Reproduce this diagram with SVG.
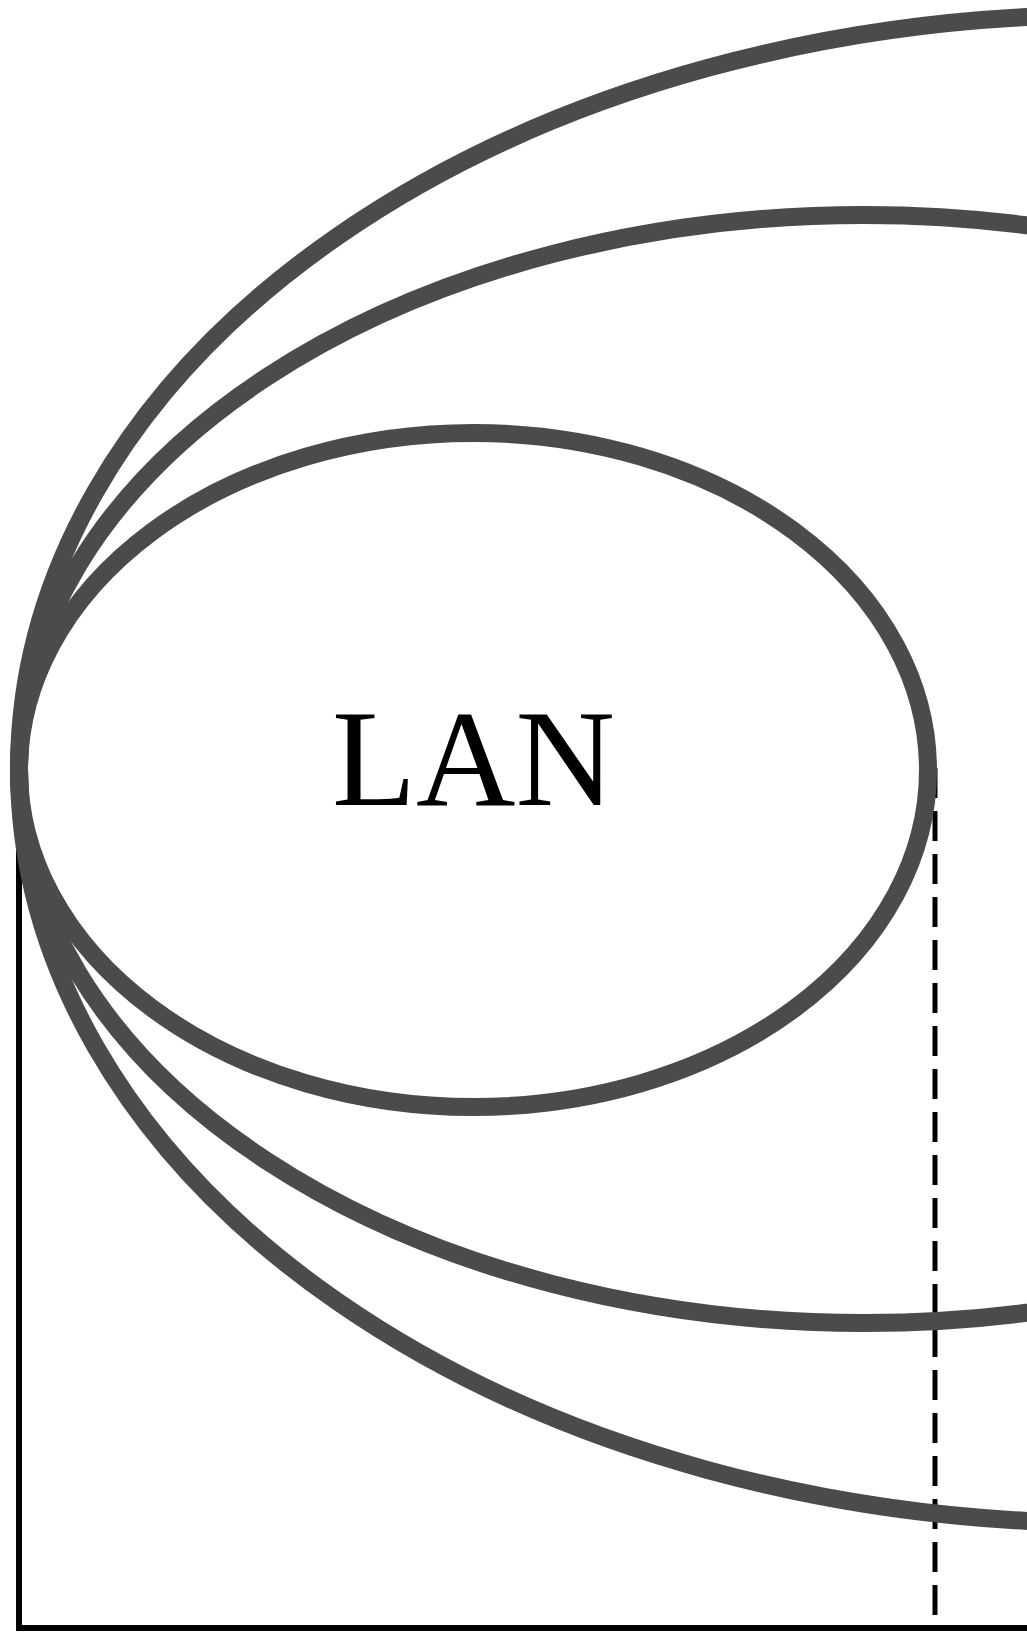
<svg xmlns="http://www.w3.org/2000/svg" width="1027" height="1633" viewBox="0 0 1027 1633">
<style>
.ell{fill:none;stroke:#4b4b4b;stroke-width:18}
.solid{fill:none;stroke:#000;stroke-width:6}
.dash{fill:none;stroke:#000;stroke-width:5;stroke-dasharray:30 13}
.lbl{font-family:"Liberation Serif","Times New Roman",serif;font-size:138px;fill:#000}
</style>
<rect width="1027" height="1633" fill="#fff"/>
<g id="connectors">
<path class="solid" d="M19,780 V1628 H1027"/>
<path class="dash" d="M935,768 V1628"/>
</g>
<g id="outer">
<ellipse class="ell" cx="1109" cy="769" rx="1090" ry="754"/>
</g>
<g id="middle">
<ellipse class="ell" cx="864" cy="769" rx="845" ry="554"/>
</g>
<g id="lan">
<ellipse class="ell" cx="473.5" cy="770" rx="454.5" ry="337"/>
<text class="lbl" x="473.5" y="805" text-anchor="middle" textLength="283" lengthAdjust="spacingAndGlyphs">LAN</text>
</g>
</svg>
